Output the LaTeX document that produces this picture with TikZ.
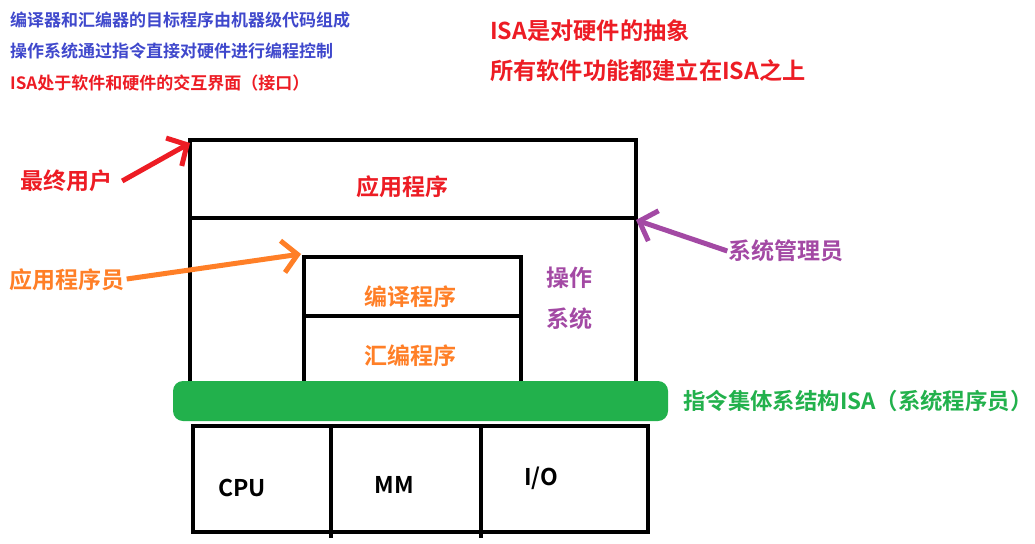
\documentclass[tikz,border=0pt]{standalone}
\usepackage{fontspec}
\setmainfont{Noto Sans CJK SC}[BoldFont={Noto Sans CJK SC Bold}]
\usetikzlibrary{arrows.meta}
\definecolor{pred}{HTML}{ED1C24}
\definecolor{porange}{HTML}{FF7F27}
\definecolor{ppurple}{HTML}{A349A4}
\definecolor{pgreen}{HTML}{22B14C}
\definecolor{pblue}{HTML}{3F48CC}
\tikzset{
  box/.style={draw=black,line width=4pt},
  lbl/.style={inner sep=0pt,font=\bfseries\fontsize{23}{26}\selectfont},
  small/.style={inner sep=0pt,anchor=west,font=\bfseries\fontsize{17}{20}\selectfont},
  big/.style={inner sep=0pt,anchor=west,font=\bfseries\fontsize{23.2}{27}\selectfont,text=pred},
  hw/.style={inner sep=0pt,font=\bfseries\fontsize{23}{26}\selectfont},
  pointer/.style={line width=5pt,-{Straight Barb[length=15pt,width=32pt]}}
}
\begin{document}
\begin{tikzpicture}[x=1pt,y=-1pt]
\useasboundingbox[fill=white] (0,0) rectangle (1035,543);
% top notes
\node[small,text=pblue] (n1) at (10,20) {编译器和汇编器的目标程序由机器级代码组成};
\node[small,text=pblue] (n2) at (10,51) {操作系统通过指令直接对硬件进行编程控制};
\node[small,text=pred] (n3) at (10,83) {ISA处于软件和硬件的交互界面（接口）};
\node[big] (r1) at (490,31) {ISA是对硬件的抽象};
\node[big] (r2) at (490,71) {所有软件功能都建立在ISA之上};
% outer box
\draw[box] (190,381) -- (190,140) -- (636,140) -- (636,381);
\draw[box] (188,218) -- (636,218);
\coordinate (tl) at (190,143);
\coordinate (mr) at (636,220);
% inner box
\draw[box] (304,381) -- (304,257) -- (521,257) -- (521,381);
\draw[box] (304,316) -- (523,316);
\coordinate (itl) at (301,254);
% hardware box
\draw[box] (193,426) rectangle (648,532);
\draw[box] (331,426) -- (331,538);
\draw[box] (481,426) -- (481,538);
% green band
\fill[pgreen,rounded corners=10pt] (173,381) rectangle (668,421);
% labels
\node[lbl,text=pred] (app) at (402,187) {应用程序};
\node[lbl,text=porange] (comp) at (410,297) {编译程序};
\node[lbl,text=porange] (asm) at (410,356) {汇编程序};
\node[lbl,text=ppurple] (os1) at (569,278) {操作};
\node[lbl,text=ppurple] (os2) at (569,319) {系统};
\node[hw] (cpu) at (242,488) {CPU};
\node[hw] (mm) at (394,485) {MM};
\node[hw] (io) at (541,478) {I/O};
\node[lbl,text=pred] (user) at (66,181) {最终用户};
\node[lbl,text=porange] (prog) at (67,280) {应用程序员};
\node[lbl,text=ppurple] (admin) at (786,251) {系统管理员};
\node[lbl,text=pgreen,anchor=west,font=\bfseries\fontsize{22.4}{26}\selectfont] (isa) at (683,401) {指令集体系结构ISA（系统程序员）};
% arrows
\draw[pointer,pred] (user.east) ++(10,0) -- (tl);
\draw[pointer,porange] (prog.east) ++(2,-1) -- (itl);
\draw[pointer,ppurple] (admin.west) ++(-1,0) -- (mr);
\end{tikzpicture}
\end{document}
